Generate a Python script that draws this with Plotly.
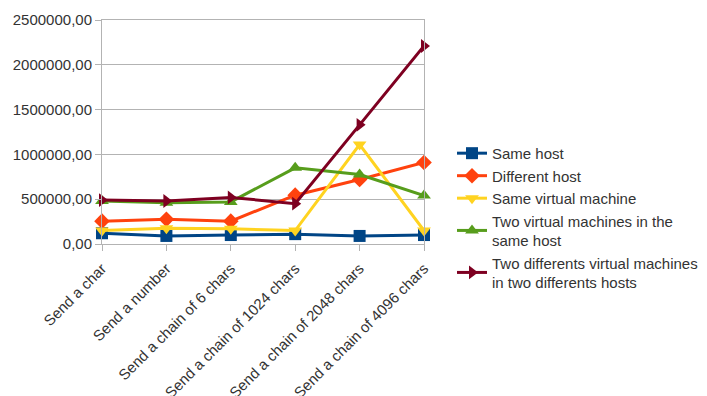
import plotly.graph_objects as go

categories = ["Send a char", "Send a number", "Send a chain of 6 chars",
              "Send a chain of 1024 chars", "Send a chain of 2048 chars",
              "Send a chain of 4096 chars"]

same_host = [120000, 90000, 100000, 110000, 90000, 100000]
different_host = [255000, 275000, 255000, 545000, 720000, 910000]
same_vm = [150000, 175000, 170000, 150000, 1110000, 150000]
two_vms_same_host = [480000, 460000, 470000, 850000, 775000, 540000]
two_vms_two_hosts = [490000, 480000, 520000, 450000, 1330000, 2210000]

series_names = ["Same host", "Different host", "Same virtual machine",
                "Two virtual machines in the<br>same host",
                "Two differents virtual machines<br>in two differents hosts"]
series_values = [same_host, different_host, same_vm, two_vms_same_host, two_vms_two_hosts]
colors = ["#004586", "#ff420e", "#ffd320", "#579d1c", "#7e0021"]
symbols = ["square", "diamond", "triangle-down", "triangle-up", "triangle-right"]

y_ticks = [0, 500000, 1000000, 1500000, 2000000, 2500000]
y_ticktext = [f"{v},00" for v in y_ticks]

fig = go.Figure()
for i, (name, vals) in enumerate(zip(series_names, series_values)):
    fig.add_trace(go.Scatter(
        x=list(range(len(categories))), y=vals, name=name, mode="lines+markers",
        line=dict(color=colors[i], width=3),
        marker=dict(symbol=symbols[i], size=12, color=colors[i]),
        cliponaxis=False, legendgroup=f"g{i}",
    ))

font_family = "Liberation Sans, Arial, sans-serif"
fig.update_layout(
    width=707, height=396,
    margin=dict(l=102, r=283, t=20, b=152, autoexpand=False),
    paper_bgcolor="white", plot_bgcolor="white",
    font=dict(family=font_family, size=15, color="#333333"),
    showlegend=True,
    legend=dict(x=1.087, y=0.478, xanchor="left", yanchor="top",
                font=dict(size=15, color="#333333"), tracegroupgap=0,
                itemwidth=30, bgcolor="rgba(0,0,0,0)"),
    xaxis=dict(
        range=[0, len(categories) - 1], tickmode="array",
        tickvals=list(range(len(categories))), ticktext=categories,
        tickangle=-45, showgrid=False, zeroline=False, automargin=False,
        showline=True, linecolor="#b3b3b3", linewidth=1, mirror=True,
        ticks="outside", ticklen=6, tickcolor="#b3b3b3", ticklabelstandoff=3,
    ),
    yaxis=dict(
        range=[0, 2500000], tickmode="array", tickvals=y_ticks, ticktext=y_ticktext,
        showgrid=True, gridcolor="#b3b3b3", gridwidth=1, zeroline=False, automargin=False,
        showline=True, linecolor="#b3b3b3", linewidth=1, mirror=True,
        ticks="outside", ticklen=6, tickcolor="#b3b3b3",
    ),
)

fig.write_html("out.html")
